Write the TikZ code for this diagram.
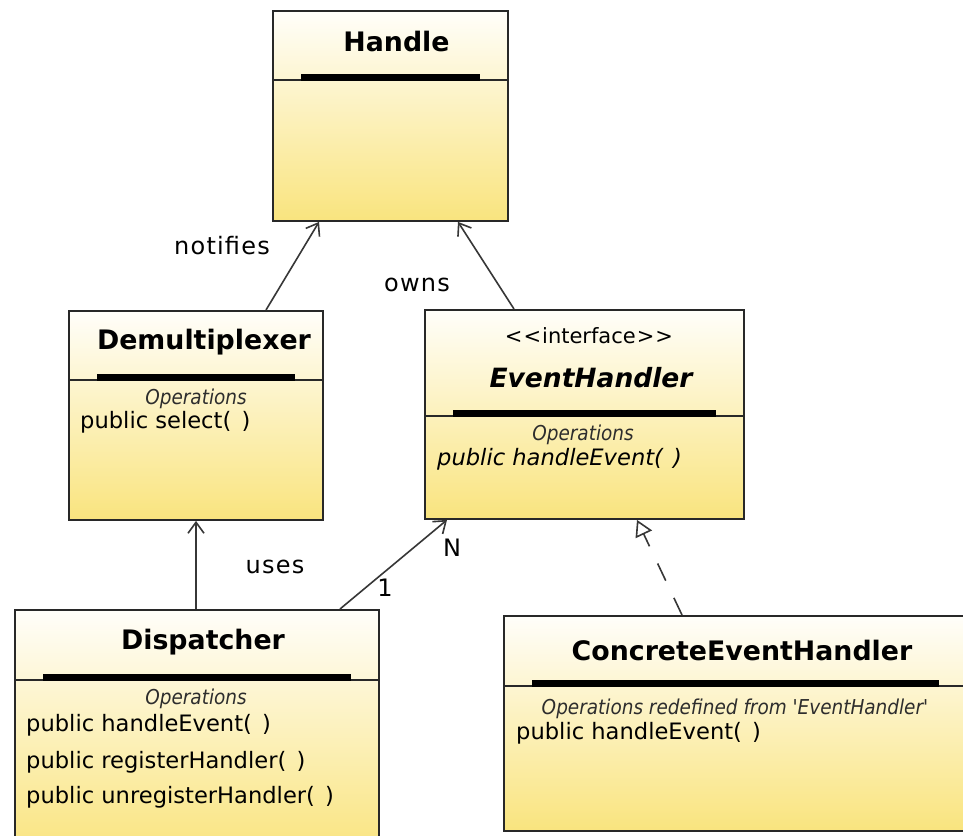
\documentclass[tikz,border=0pt]{standalone}
\usepackage{fontspec}
\setmainfont{DejaVu Sans}
\newfontfamily\condfont{DejaVu Sans Condensed}
\newfontfamily\labelfont{DejaVu Sans}[LetterSpace=5]
\usetikzlibrary{arrows.meta,calc}

\definecolor{boxtop}{RGB}{255,254,250}
\definecolor{boxbot}{RGB}{249,228,126}
\definecolor{edge}{RGB}{40,40,40}
\definecolor{wire}{RGB}{55,55,55}
\definecolor{opsgray}{RGB}{45,45,45}

\tikzset{
  classbox/.style={draw=edge, line width=1.9pt, top color=boxtop, bottom color=boxbot,
                   anchor=north west, inner sep=0pt},
  divline/.style={draw=edge, line width=1.9pt},
  titlebar/.style={fill=black},
  classname/.style={font=\fontsize{26.8}{31}\selectfont\bfseries, inner sep=0pt},
  stereo/.style={font=\fontsize{21}{25}\selectfont, inner sep=0pt},
  opshead/.style={font=\condfont\fontsize{20.5}{24}\selectfont\itshape, text=opsgray, inner sep=0pt},
  opitem/.style={font=\fontsize{22.6}{26}\selectfont, inner sep=0pt, anchor=west},
  linklabel/.style={font=\labelfont\fontsize{24}{28}\selectfont, inner sep=0pt},
  assoc/.style={draw=wire, line width=1.6pt,
                -{Straight Barb[length=11pt,width=16pt,line width=1.6pt]}},
  realize/.style={draw=wire, line width=1.6pt, dash pattern=on 19pt off 19pt,
                  -{Triangle[open,length=16pt,width=18pt,line width=1.6pt]}}
}

% divider between name compartment and operations compartment
\newcommand\compartment[2]{%
  \draw[divline] ($(#1.north west)+(0,#2)$) -- ($(#1.north east)+(0,#2)$);
  \fill[titlebar] ($(#1.north west)+(28.5,#2-6)$) rectangle ($(#1.north east)+(-28.5,#2+1)$);
}

\begin{document}
\begin{tikzpicture}[x=1pt,y=-1pt]
\path[use as bounding box] (0,0) rectangle (963,835);
\clip (0,0) rectangle (963,835);
\fill[white] (0,0) rectangle (963,835);

% class frames
\node[classbox, minimum width=235pt, minimum height=210pt] (handle) at (272,10) {};
\node[classbox, minimum width=254pt, minimum height=209pt] (demux) at (68,310) {};
\node[classbox, minimum width=319pt, minimum height=209pt] (evh) at (424,309) {};
\node[classbox, minimum width=364pt, minimum height=245pt] (disp) at (14,609) {};
\node[classbox, minimum width=463pt, minimum height=215pt] (conc) at (503,615) {};

\compartment{handle}{70}
\compartment{demux}{70}
\compartment{evh}{107}
\compartment{disp}{71}
\compartment{conc}{71}

% Handle
\node[classname] (handleT) at (396.5,42) {Handle};

% Demultiplexer
\node[classname] (demuxT) at (204,342) {Demultiplexer};
\node[opshead] (demuxO) at (196,399) {Operations};
\node[opitem] (demuxA) at (80,422) {public select(\hspace{0.45em})};

% EventHandler
\node[stereo] (evhS) at (589,336) {<\kern1pt<\kern1pt interface\kern1pt>\kern1pt>};
\node[classname, font=\fontsize{26.5}{31}\selectfont\bfseries\itshape] (evhT) at (591,378) {EventHandler};
\node[opshead] (evhO) at (583,435) {Operations};
\node[opitem, font=\fontsize{22.6}{26}\selectfont\itshape] (evhA) at (437,459) {public handleEvent(\hspace{0.45em})};

% Dispatcher
\node[classname] (dispT) at (203,642) {Dispatcher};
\node[opshead] (dispO) at (196,699) {Operations};
\node[opitem] (dispA) at (26,725) {public handleEvent(\hspace{0.45em})};
\node[opitem] (dispB) at (26,762) {public registerHandler(\hspace{0.45em})};
\node[opitem] (dispC) at (26,797) {public unregisterHandler(\hspace{0.45em})};

% ConcreteEventHandler
\node[classname] (concT) at (742,650) {ConcreteEventHandler};
\node[opshead] (concO) at (735,709) {Operations redefined from 'EventHandler'};
\node[opitem] (concA) at (516,733) {public handleEvent(\hspace{0.45em})};

% connector end points on the frames
\coordinate (dmTop)  at ($(demux.north west)+(198,0)$);
\coordinate (hdA)    at ($(handle.south west)+(47,0)$);
\coordinate (ehTop)  at ($(evh.north west)+(90,0)$);
\coordinate (hdB)    at ($(handle.south west)+(186,0)$);
\coordinate (dsTopA) at ($(disp.north west)+(182,0)$);
\coordinate (dmBot)  at ($(demux.south west)+(128,0)$);
\coordinate (dsTopB) at ($(disp.north west)+(326,0)$);
\coordinate (ehBotA) at ($(evh.south west)+(23,0)$);
\coordinate (ceTop)  at ($(conc.north west)+(179,0)$);
\coordinate (ehBotB) at ($(evh.south west)+(213,0)$);

% connectors
\draw[assoc] (dmTop) -- (hdA);
\draw[assoc] (ehTop) -- (hdB);
\draw[assoc] (dsTopA) -- (dmBot);
\draw[assoc] (dsTopB) -- (ehBotA);
\draw[realize] (ceTop) -- (ehBotB);

% connector labels
\node[linklabel] (lNotifies) at (222,246) {notifies};
\node[linklabel] (lOwns) at (417,285) {owns};
\node[linklabel] (lUses) at (275,567) {uses};
\node[linklabel] (lOne) at (385,588) {1};
\node[linklabel] (lN) at (452,548) {N};
\end{tikzpicture}
\end{document}
